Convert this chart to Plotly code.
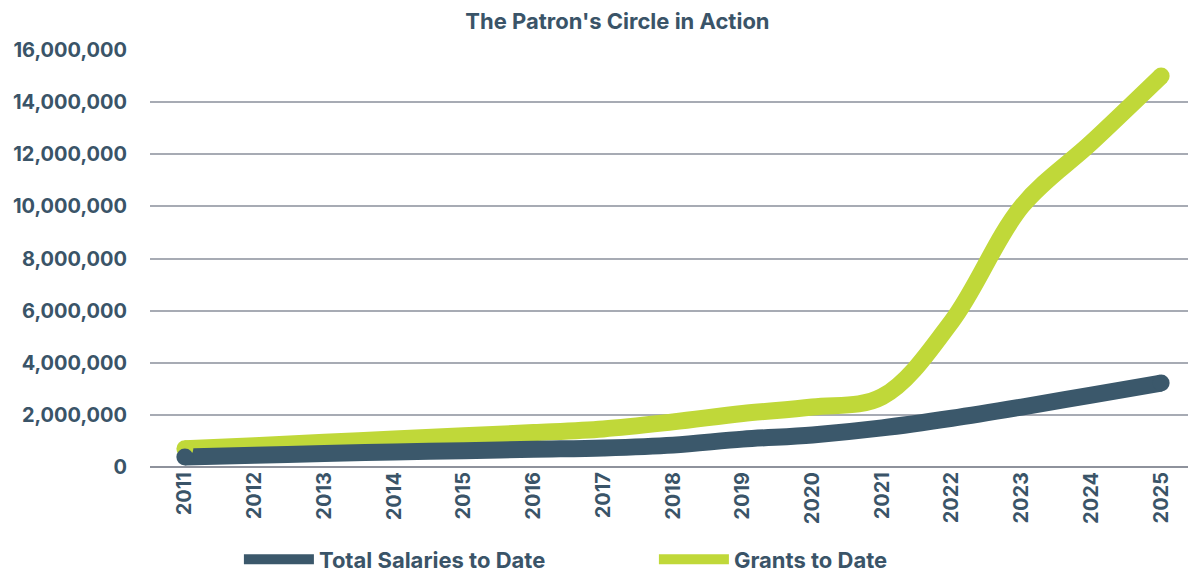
import plotly.graph_objects as go

# Values
years = [str(y) for y in range(2011, 2026)]
salaries = [380000, 450000, 520000, 580000, 620000, 680000, 730000, 840000,
            1070000, 1230000, 1500000, 1870000, 2300000, 2760000, 3220000]
grants = [700000, 820000, 950000, 1070000, 1200000, 1320000, 1460000, 1730000,
          2050000, 2300000, 2700000, 5600000, 10000000, 12450000, 15000000]

dark = '#3b586b'
green = '#c0d839'
text_col = '#3a5468'
font_family = 'Inter, Lato, sans-serif'

fig = go.Figure()

# green first so the dark line sits on top, as in the original
fig.add_trace(go.Scatter(x=years, y=grants, mode='lines', name='Grants to Date',
                         line=dict(color=green, width=17, shape='spline', smoothing=1),
                         legendrank=2))
fig.add_trace(go.Scatter(x=years, y=salaries, mode='lines', name='Total Salaries to Date',
                         line=dict(color=dark, width=17, shape='spline', smoothing=1),
                         legendrank=1))

# round end caps
for vals, col in [(grants, green), (salaries, dark)]:
    fig.add_trace(go.Scatter(x=[years[0], years[-1]], y=[vals[0], vals[-1]], mode='markers',
                             marker=dict(color=col, size=17, line=dict(width=0)),
                             showlegend=False, hoverinfo='skip'))

# page body adds an 8px margin, so the figure is 8px smaller and shifted
fig.update_layout(
    width=1188, height=567,
    margin=dict(l=142, r=0, t=42, b=108, autoexpand=False),
    paper_bgcolor='white', plot_bgcolor='white',
    font=dict(family=font_family, color=text_col, size=18, weight=700),
    title=dict(text="The Patron's Circle in Action", x=0.513, xanchor='center',
               y=0.977, yanchor='middle',
               font=dict(size=22, color=text_col, family=font_family, weight=700)),
    legend=dict(orientation='h', x=0.085, xanchor='left', y=-0.222, yanchor='middle',
                font=dict(size=22, color=text_col, family=font_family, weight=700),
                itemwidth=70, entrywidth=330, entrywidthmode='pixels'),
    showlegend=True,
)

fig.update_xaxes(type='category', tickangle=-90, showgrid=False, showline=False,
                 ticks='', automargin=False,
                 tickfont=dict(size=20, color=text_col, family=font_family, weight=700),
                 range=[-0.5, 14.5])
fig.update_yaxes(range=[0, 16000000], dtick=2000000, tickformat=',', automargin=False,
                 gridcolor='#a7abb4', gridwidth=1.5, zeroline=True, zerolinecolor='#8e929c',
                 zerolinewidth=2, ticks='', ticklabelstandoff=22,
                 tickfont=dict(size=20, color=text_col, family=font_family, weight=700))

fig.write_html("out.html")
